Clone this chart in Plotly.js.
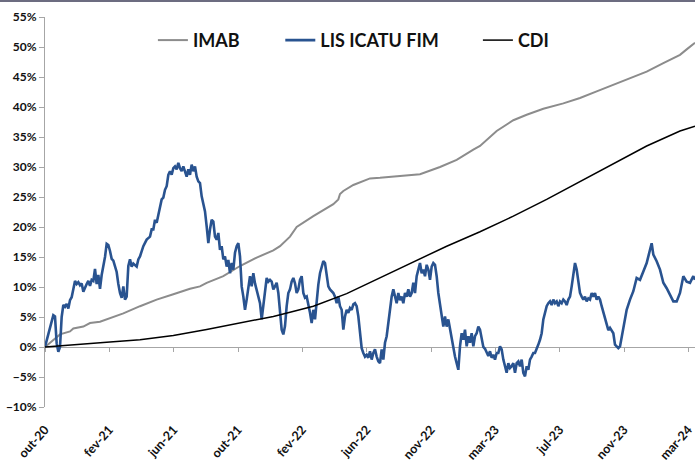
<!DOCTYPE html>
<html>
<head>
<meta charset="utf-8">
<script src="https://cdn.plot.ly/plotly-3.0.1.min.js"></script>
<style>html,body{margin:0;padding:0;background:#fff;}#chart{width:695px;height:467px;}</style>
</head>
<body>
<div id="chart"></div>
<script>
// Tick labels (category axis, one label every ~39 samples)
var monthLabels = ['out-20','fev-21','jun-21','out-21','fev-22','jun-22','nov-22','mar-23','jul-23','nov-23','mar-24'];

// IMAB (sample index, cumulative return %)
var imabIdx = [0,9,15,17,23,27,33,37,39,45,47,57,67,77,87,93,97,107,117,127,137,141,147,151,161,173,176,177,179,185,195,201,211,225,237,247,257,261,271,281,289,299,311,321,331,341,351,361,371,381,385,390];
var imabVal = [0,2.1,2.6,3.1,3.4,4,4.2,4.6,4.7,5.3,5.6,6.8,7.9,8.8,9.7,10.1,10.7,11.8,13.5,14.9,16.1,16.8,18.4,20,21.8,23.8,24.6,25.5,26,27,28.1,28.2,28.4,28.8,30,31.2,32.9,33.5,36,37.8,38.7,39.7,40.6,41.5,42.6,43.7,44.8,45.9,47.3,48.7,49.6,50.7];

// LIS ICATU FIM
var lisIdx = [0,5,6,7,8,9,10,11,12,13,14,15,16,17,18,19,20,21,22,23,24,25,26,27,28,29,30,31,32,33,34,35,36,37,38,39,40,41,42,43,44,45,46,47,48,49,50,51,52,53,55,56,57,59,61,62,63,64,65,66,67,68,69,70,71,72,73,74,75,76,77,78,79,80,81,82,83,84,85,86,87,88,89,90,91,92,93,94,95,96,97,98,99,100,101,102,103,104,105,106,107,108,109,110,111,112,113,114,115,116,117,118,119,120,121,122,123,124,125,126,127,128,129,130,131,132,133,134,135,136,137,138,139,140,141,142,143,144,145,146,147,148,149,150,151,152,153,154,155,156,157,158,159,160,161,162,163,164,165,166,167,168,169,170,171,172,173,174,175,176,177,178,179,180,181,182,183,184,185,186,187,188,189,190,191,192,193,194,195,196,197,198,199,200,201,202,203,204,205,206,207,208,209,210,211,212,213,214,215,216,217,218,219,220,221,222,223,224,225,226,227,228,229,230,231,232,233,234,235,236,237,238,239,240,241,242,243,244,245,246,247,248,249,250,251,252,253,254,255,256,257,258,259,260,261,262,263,264,265,266,267,268,269,270,271,272,273,274,275,276,277,278,279,280,281,282,283,284,285,286,287,288,289,290,291,292,293,294,295,296,297,298,299,300,301,302,303,304,305,306,307,308,309,310,311,312,313,314,315,316,317,318,319,320,321,322,323,324,325,326,327,328,329,330,331,332,333,334,335,336,337,338,339,341,342,344,345,347,349,351,353,355,357,359,361,363,364,365,367,369,371,373,375,377,379,381,383,385,387,389,390];
var lisVal = [0,5.3,5.1,0.6,-0.8,0,5,7,6.7,7.2,6.4,7.8,8.3,9.5,11,10.5,10.8,10.3,10.6,9.2,10,10.5,11,10.2,11.2,11,13,10.5,12,9.7,12,13.5,15,17.2,17,16,14.7,14.4,13.3,12.5,10.5,9,8.2,10.1,7.9,8.4,13.5,14.6,13.4,13.9,13.4,14.6,15.1,16.8,17.9,18.1,18.4,19.6,19.6,21.2,20.7,22,23.4,24.6,24.9,26.2,26.8,28.7,29.3,28.7,29.8,30.1,29.6,30.7,29.8,29.3,30.1,29,28.4,29.6,28.7,30.4,29.3,30.1,28.4,27.6,27.3,25.1,24,22.6,20.1,17.3,19.6,21.2,20.9,18.4,17.9,19,16.2,16.8,14.6,15.1,13.4,14.5,12.3,14,12.9,15.7,16.8,17.3,15.1,10.1,8.4,6.2,7.9,10.1,11.8,10.1,12.3,10.6,9.6,8.4,7.3,4.6,6.8,9.6,11.5,10.9,11.2,10.9,9.6,10.1,10.7,9,6.2,2.9,2.1,3.5,6.8,9,9.6,10.9,11.5,10.6,9,9.6,11.2,11.8,9,8.2,8.4,7.3,5.7,4,6.2,4.6,7.9,10.4,12.3,13.4,14.3,14,11.8,10.1,9.6,9.3,9,8.4,7.3,8.4,6.8,6.2,2.9,5.1,6.2,5.7,6.5,6.2,7.1,7.3,6.8,5.1,1.8,-0.2,-1,-1.6,-1.3,-1.8,-0.7,-2.1,-1,-0.4,-1.6,-2.4,-2.7,-0.4,-2.1,0.7,1.8,4,6.2,8.4,9.6,8.4,7.3,9,7.8,8.4,7.3,9,8.4,9.6,8.4,9,10.7,9,11.8,12.9,14,12.3,12.9,11.8,13.7,12.9,11.2,13.4,14,13.7,11.8,9,6.8,5.1,3.4,5.1,3.4,4.6,2.9,1.2,0.1,-1.6,-2.7,-3.8,0.1,2.3,1.2,2.9,0.1,1.8,0.7,2.3,0.1,1.8,2.3,3.4,2.9,1.2,0,-0.3,-1,-1.5,-0.7,-1.8,-1.3,-2.1,-1,-1,0.1,-0.4,-2.1,-3.2,-4.3,-2.7,-3.5,-3.2,-2.7,-4.3,-2.7,-2.4,-3.2,-2.1,-4.3,-4.9,-3.2,-3.8,-2.1,-1.6,-1,-1,-0.4,0.4,1.2,2.3,4.6,5.7,6.8,7.3,7.6,7,7.9,7.3,7.6,6.8,7.6,7.3,7.9,7.6,7,7.9,8.4,10.1,12.3,14,12.9,10.7,9,8.4,7.9,8.4,7.6,8.1,7.9,9,8.4,9,7.9,8.4,7.9,6.8,5.7,4.5,3.4,2.8,3.2,2.3,0.4,-0.2,0.1,2.9,6.2,7.9,9.3,11.5,11.2,12.6,14,16.2,17.3,15.4,14.3,12.9,10.7,9.8,8.7,7.6,7.6,9,11.8,10.9,10.7,11.8,11.2];

// CDI
var cdiIdx = [0,17,37,57,77,97,117,137,147,161,181,201,225,241,261,281,301,321,341,361,381,390];
var cdiVal = [0,0.4,0.8,1.2,1.9,2.9,4,5.1,5.8,6.8,8.9,11.5,14.6,16.8,19.2,21.8,24.6,27.6,30.6,33.5,36,36.8];

var labelStep = 38.6;
var tickPos = monthLabels.map(function(_, i){ return i * labelStep; });
var xRange = [0, 390];

var FONT = 'Lato, "Open Sans", sans-serif';

var traces = [
  {x: imabIdx, y: imabVal, name: 'IMAB', type: 'scatter', mode: 'lines',
   line: {color: '#8c8c8c', width: 2}, legend: 'legend', hoverinfo: 'skip'},
  {x: lisIdx, y: lisVal, name: 'LIS ICATU FIM', type: 'scatter', mode: 'lines',
   line: {color: '#295390', width: 2.6}, legend: 'legend2', hoverinfo: 'skip'},
  {x: cdiIdx, y: cdiVal, name: 'CDI', type: 'scatter', mode: 'lines',
   line: {color: '#000000', width: 1.5}, legend: 'legend3', hoverinfo: 'skip'}
];

function leg(x) {
  return {x: x, y: 0.94, xanchor: 'left', yanchor: 'middle', orientation: 'h',
    bgcolor: 'rgba(0,0,0,0)', borderwidth: 0, itemwidth: 30,
    font: {family: FONT, size: 18, color: '#111', weight: 700}};
}

var layout = {
  width: 695, height: 467,
  margin: {l: 45, r: 0, t: 17, b: 60, pad: 0},
  paper_bgcolor: '#ffffff', plot_bgcolor: '#ffffff',
  showlegend: true,
  legend: leg(0.166),
  legend2: leg(0.362),
  legend3: leg(0.666),
  xaxis: {
    range: xRange, tickmode: 'array', tickvals: tickPos, ticktext: monthLabels,
    tickangle: -48, showline: false, showgrid: false, zeroline: false, ticks: '',
    ticklabelstandoff: 12, ticklabeloverflow: 'allow',
    tickfont: {family: FONT, size: 12.5, color: '#111', weight: 700}
  },
  xaxis2: {
    overlaying: 'x', anchor: 'free', position: 10/65, side: 'bottom',
    range: xRange, tickmode: 'array', tickvals: tickPos, ticktext: monthLabels,
    showticklabels: false, showline: true, linecolor: '#a6a6a6', linewidth: 1,
    ticks: 'outside', ticklen: 4, tickcolor: '#a6a6a6', showgrid: false, zeroline: false,
    layer: 'below traces'
  },
  yaxis: {
    range: [-10, 55], tickmode: 'linear', tick0: 0, dtick: 5, ticksuffix: '%',
    showline: true, linecolor: '#a6a6a6', linewidth: 1, ticks: 'outside', ticklen: 5,
    tickcolor: '#a6a6a6', showgrid: false, zeroline: false,
    tickfont: {family: FONT, size: 12, color: '#111', weight: 700}
  },
  shapes: [
    {type: 'rect', xref: 'paper', yref: 'paper', x0: -0.08, x1: 1.01,
     ysizemode: 'pixel', yanchor: 1, y0: 15, y1: 18,
     fillcolor: '#6c6c80', line: {width: 0}, layer: 'above'}
  ]
};

// invisible helper so the zero-crossing axis (ticks only) is drawn
traces.push({x: [xRange[0], xRange[1]], y: [0, 0], xaxis: 'x2', yaxis: 'y', type: 'scatter', mode: 'lines',
  line: {color: 'rgba(0,0,0,0)', width: 0}, showlegend: false, hoverinfo: 'skip'});

Plotly.newPlot('chart', traces, layout, {displayModeBar: false, staticPlot: true});
</script>
</body>
</html>
